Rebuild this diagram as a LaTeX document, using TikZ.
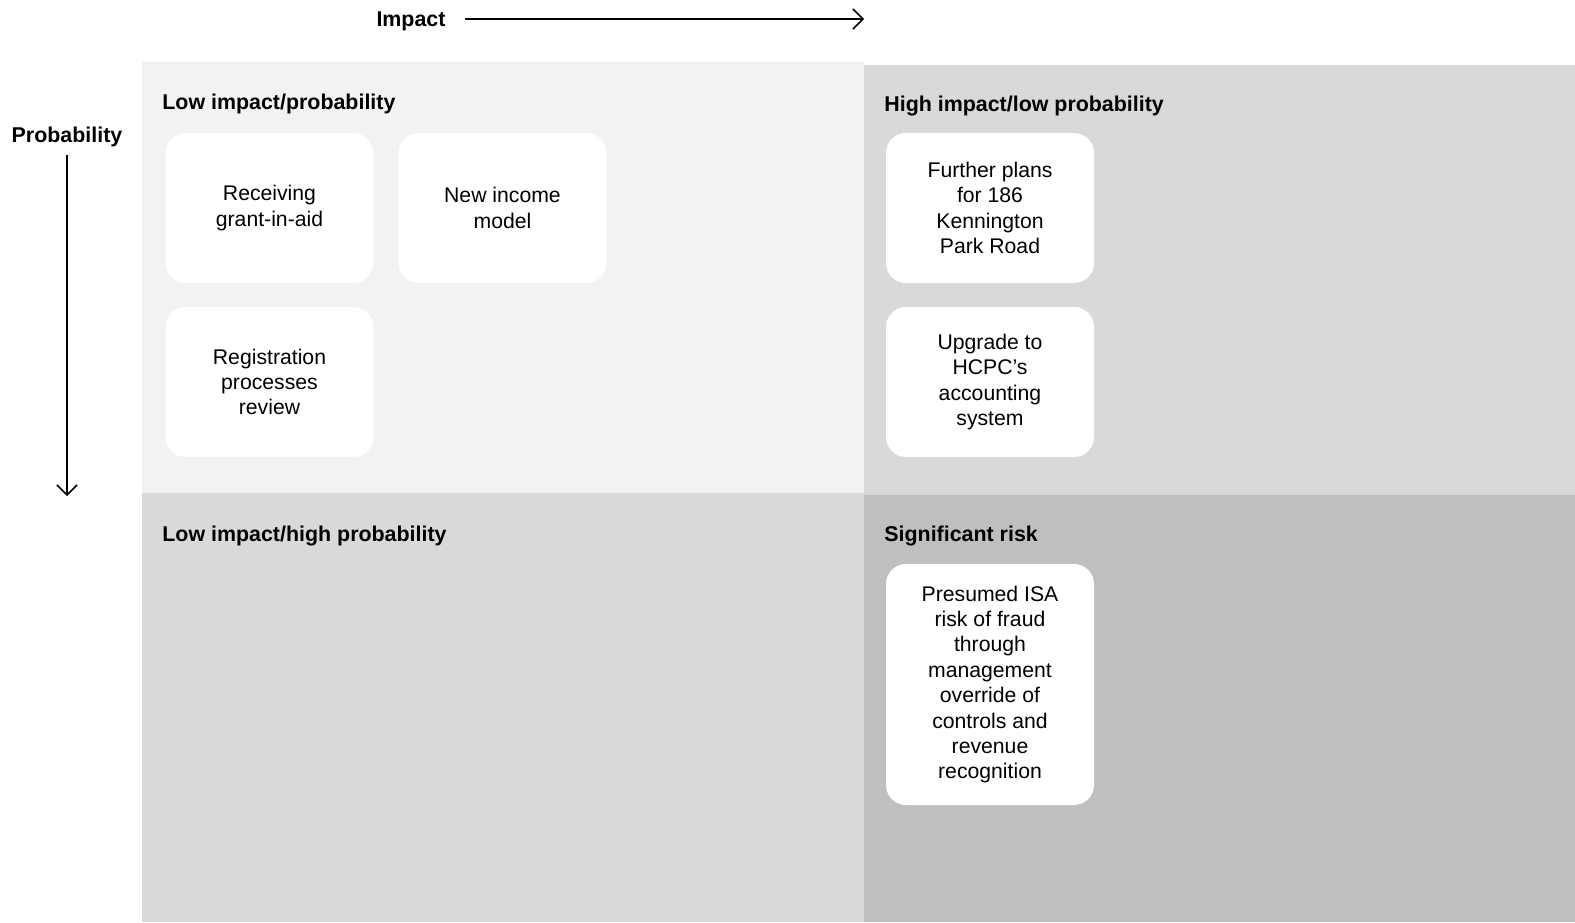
\documentclass[tikz,border=0pt]{standalone}
\usepackage{fontspec}
\setmainfont{Liberation Sans}
\usetikzlibrary{arrows.meta}
\definecolor{lowq}{HTML}{F2F2F2}
\definecolor{midq}{HTML}{D9D9D9}
\definecolor{highq}{HTML}{BFBFBF}

\begin{document}
\begin{tikzpicture}[x=0.5pt,y=-0.5pt,
    font=\fontsize{10.6}{12.7}\selectfont,
    risk/.style={fill=white,rounded corners=10pt,align=center,
      minimum width=104pt,minimum height=75pt,inner sep=0pt},
    head/.style={anchor=base west,inner sep=0pt,font=\fontsize{10.7}{12.7}\selectfont\bfseries},
    axis/.style={line width=0.75pt,-{Straight Barb[length=5pt,width=10pt]}}]
  \useasboundingbox (0,0) rectangle (1575,922);
  % quadrants
  \fill[lowq] (142,62) rectangle (864,493);
  \fill[midq] (864,65) rectangle (1575,495);
  \fill[midq] (142,493) rectangle (864,922);
  \fill[highq] (864,495) rectangle (1575,922);
  \node[head] (lowlow) at (162,109) {Low impact/probability};
  \node[head] (highlow) at (884,111) {High impact/low probability};
  \node[head] (lowhigh) at (162,541) {Low impact/high probability};
  \node[head] (sig) at (884,541) {Significant risk};
  % axes
  \node[head,anchor=base] (impact) at (411,26) {Impact};
  \coordinate (impstart) at (465,19);
  \coordinate (impend) at (864,19);
  \draw[axis] (impstart) -- (impend);
  \node[head,anchor=base] (prob) at (67,142) {Probability};
  \coordinate (probend) at (67,496);
  \draw[axis] (prob.south |- 0,155) -- (probend);
  % risks
  \node[risk] (grant) at (269.5,208) {Receiving\\grant-in-aid};
  \node[risk] (income) at (502.5,208) {New income\\model};
  \node[risk] (regist) at (269.5,382) {Registration\\processes\\review};
  \node[risk] (kenn) at (990,208) {Further plans\\for 186\\Kennington\\Park Road};
  \node[risk] (hcpc) at (990,382) {Upgrade to\\HCPC’s\\accounting\\system};
  \node[risk,minimum height=120.5pt] (fraud) at (990,684.5) {Presumed ISA\\risk of fraud\\through\\management\\override of\\controls and\\revenue\\recognition};
\end{tikzpicture}
\end{document}
